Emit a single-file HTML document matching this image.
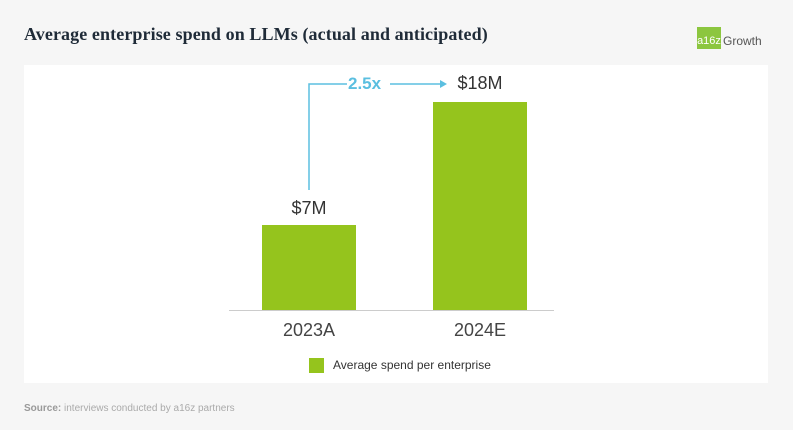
<!DOCTYPE html>
<html><head><style>
body{margin:0;width:793px;height:430px;background:#f6f6f6;position:relative;overflow:hidden;font-family:"Liberation Sans",sans-serif}
.a{position:absolute}
</style></head><body>
<div class="a" style="left:24px;top:24px;font-family:'Liberation Serif',serif;font-weight:bold;font-size:18px;color:#1f2b38;letter-spacing:0.1px">Average enterprise spend on LLMs (actual and anticipated)</div>
<div class="a" style="left:697px;top:27px;width:24px;height:22px;background:#8cc63f"></div>
<div class="a" style="left:697px;top:35px;font-size:11px;color:#fff;width:24px;text-align:center">a16z</div>
<div class="a" style="left:723px;top:34px;font-size:12px;color:#555">Growth</div>
<div class="a" style="left:24px;top:65px;width:744px;height:318px;background:#fff"></div>
<div class="a" style="left:262px;top:225px;width:94px;height:85px;background:#95c41d"></div>
<div class="a" style="left:433px;top:102px;width:94px;height:208px;background:#95c41d"></div>
<div class="a" style="left:229px;top:310px;width:325px;height:1px;background:#ccc"></div>
<div class="a" style="left:262px;top:198px;width:94px;text-align:center;font-size:18px;color:#333">$7M</div>
<div class="a" style="left:433px;top:73px;width:94px;text-align:center;font-size:18px;color:#333">$18M</div>
<div class="a" style="left:262px;top:320px;width:94px;text-align:center;font-size:18px;color:#444">2023A</div>
<div class="a" style="left:433px;top:320px;width:94px;text-align:center;font-size:18px;color:#444">2024E</div>
<svg class="a" style="left:0;top:0" width="793" height="430">
<path d="M309 190V84H347M390 84H440" stroke="#5bbfe0" stroke-width="1.5" fill="none"/>
<path d="M440 80L447 84L440 88Z" fill="#5bbfe0"/>
</svg>
<div class="a" style="left:348px;top:74px;font-size:17px;font-weight:bold;color:#5bbfe0">2.5x</div>
<div class="a" style="left:309px;top:358px;width:15px;height:15px;background:#95c41d"></div>
<div class="a" style="left:333px;top:358px;font-size:12px;color:#333">Average spend per enterprise</div>
<div class="a" style="left:24px;top:403px;font-size:10px;color:#aaa"><b style="color:#999">Source:</b> interviews conducted by a16z partners</div>
</body></html>
